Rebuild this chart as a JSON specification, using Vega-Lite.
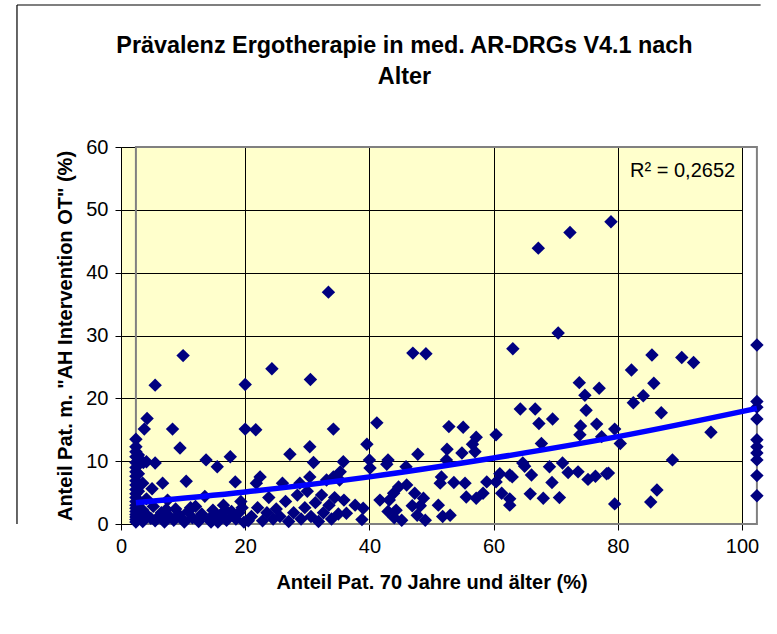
{
  "$schema": "https://vega.github.io/schema/vega-lite/v6.json",
  "autosize": "none",
  "width": 621,
  "height": 377,
  "padding": {"left": 121, "top": 147, "right": 35, "bottom": 110},
  "background": "white",
  "config": {
    "view": {"fill": "#FFFFCC", "stroke": null},
    "font": "Liberation Sans"
  },
  "title": {
    "text": ["Prävalenz Ergotherapie in med. AR-DRGs V4.1 nach", "Alter"],
    "fontSize": 23.4,
    "font": "Liberation Sans",
    "fontWeight": "bold",
    "color": "#000000",
    "anchor": "middle",
    "dx": -27,
    "offset": -85,
    "lineHeight": 31
  },
  "datasets": {
    "pts": [
      {"x":2.4,"y":0.3},{"x":2.4,"y":0.7},{"x":2.4,"y":1.1},{"x":2.4,"y":1.5},{"x":2.4,"y":2.0},{"x":2.4,"y":2.5},{"x":2.4,"y":3.0},{"x":2.4,"y":3.6},{"x":2.4,"y":4.2},{"x":2.4,"y":4.8},{"x":2.4,"y":5.5},{"x":2.4,"y":6.2},{"x":2.4,"y":6.9},{"x":2.4,"y":7.6},{"x":2.4,"y":8.3},{"x":2.4,"y":9.0},{"x":2.4,"y":9.8},{"x":2.4,"y":10.7},{"x":2.4,"y":11.5},{"x":2.4,"y":12.3},{"x":2.4,"y":13.5},
      {"x":2.8,"y":1.0},{"x":2.8,"y":3.3},{"x":2.8,"y":5.2},{"x":2.8,"y":8.0},{"x":2.8,"y":11.0},
      {"x":3.5,"y":0.4},{"x":3.5,"y":2.2},{"x":3.5,"y":6.5},{"x":3.6,"y":9.8},{"x":3.75,"y":15.1},
      {"x":4.2,"y":1.4},{"x":4.1,"y":4.0},{"x":4.2,"y":16.8},{"x":4.1,"y":9.9},
      {"x":5.5,"y":0.5},{"x":5.2,"y":2.8},{"x":5.5,"y":9.7},{"x":5.5,"y":22.1},{"x":5.0,"y":5.6},
      {"x":6.7,"y":6.5},{"x":6.5,"y":1.8},{"x":7.0,"y":0.3},{"x":7.5,"y":3.8},{"x":7.8,"y":1.2},
      {"x":8.3,"y":15.1},{"x":8.5,"y":0.6},{"x":8.8,"y":2.4},{"x":9.5,"y":12.1},{"x":9.3,"y":1.5},
      {"x":10.0,"y":26.8},{"x":10.5,"y":6.8},{"x":10.2,"y":0.3},{"x":10.8,"y":2.0},{"x":11.5,"y":1.0},
      {"x":12.0,"y":2.8},{"x":12.5,"y":0.4},{"x":13.0,"y":1.6},{"x":13.7,"y":10.2},{"x":13.5,"y":4.4},
      {"x":14.2,"y":0.8},{"x":14.8,"y":2.2},{"x":15.5,"y":9.1},{"x":15.6,"y":0.3},{"x":16.0,"y":1.4},
      {"x":16.5,"y":3.0},{"x":17.0,"y":0.6},{"x":17.6,"y":10.7},{"x":17.8,"y":2.0},{"x":18.4,"y":6.7},
      {"x":18.5,"y":0.8},{"x":19.0,"y":1.8},{"x":19.3,"y":3.6},{"x":19.8,"y":0.3},
      {"x":4.8,"y":0.9},{"x":6.0,"y":1.1},{"x":7.3,"y":2.3},{"x":9.8,"y":0.9},{"x":11.2,"y":2.6},
      {"x":12.8,"y":1.0},{"x":14.5,"y":0.3},{"x":15.2,"y":1.2},{"x":16.8,"y":2.2},{"x":18.0,"y":1.4},
      {"x":19.5,"y":2.6},{"x":20.5,"y":0.5},
      {"x":20.0,"y":22.2},{"x":20.0,"y":15.1},{"x":21.7,"y":15.0},{"x":21.8,"y":6.5},{"x":22.4,"y":7.5},
      {"x":21.0,"y":1.2},{"x":22.0,"y":2.6},{"x":22.8,"y":0.5},{"x":23.5,"y":1.8},{"x":23.8,"y":4.2},
      {"x":24.3,"y":24.7},{"x":24.5,"y":0.8},{"x":25.0,"y":2.4},{"x":25.6,"y":1.2},{"x":26.0,"y":6.5},
      {"x":26.5,"y":3.6},{"x":27.0,"y":0.4},{"x":27.2,"y":11.1},{"x":27.8,"y":1.8},{"x":28.4,"y":4.6},
      {"x":28.8,"y":6.5},{"x":29.0,"y":0.8},{"x":29.6,"y":2.6},{"x":30.0,"y":5.2},{"x":30.4,"y":12.3},
      {"x":30.5,"y":23.0},{"x":30.4,"y":7.5},{"x":30.6,"y":1.2},{"x":31.0,"y":9.8},{"x":31.3,"y":3.4},
      {"x":31.8,"y":0.4},{"x":32.3,"y":4.6},{"x":32.6,"y":1.8},{"x":33.1,"y":7.0},{"x":33.4,"y":36.9},
      {"x":33.5,"y":3.0},{"x":33.9,"y":0.8},{"x":34.2,"y":15.1},{"x":34.2,"y":7.5},{"x":34.4,"y":4.2},
      {"x":35.3,"y":8.3},{"x":35.8,"y":9.9},{"x":35.0,"y":1.6},{"x":35.9,"y":3.8},{"x":36.3,"y":1.7},
      {"x":35.2,"y":7.0},{"x":37.7,"y":3.0},{"x":39.0,"y":2.5},{"x":38.8,"y":0.7},{"x":39.6,"y":12.7},
      {"x":40.0,"y":10.2},{"x":40.1,"y":8.9},{"x":41.2,"y":16.1},{"x":41.7,"y":3.8},{"x":43.2,"y":3.8},
      {"x":43.0,"y":2.0},{"x":44.3,"y":2.2},{"x":45.2,"y":0.6},{"x":44.0,"y":1.0},{"x":43.0,"y":10.2},
      {"x":42.8,"y":9.5},{"x":43.9,"y":4.9},{"x":44.7,"y":5.9},{"x":45.9,"y":9.1},{"x":46.0,"y":6.2},
      {"x":47.0,"y":27.2},{"x":49.1,"y":27.1},{"x":47.8,"y":11.1},{"x":47.3,"y":4.9},{"x":48.7,"y":4.1},
      {"x":48.2,"y":2.9},{"x":49.0,"y":0.6},{"x":47.7,"y":1.4},{"x":46.9,"y":2.9},{"x":51.1,"y":3.0},
      {"x":51.8,"y":1.2},{"x":53.0,"y":1.4},{"x":51.4,"y":6.5},{"x":51.6,"y":7.5},{"x":52.4,"y":10.2},
      {"x":52.5,"y":11.9},{"x":52.8,"y":15.5},{"x":53.6,"y":6.6},{"x":55.1,"y":15.4},{"x":54.9,"y":11.3},
      {"x":55.4,"y":6.5},{"x":55.6,"y":4.3},{"x":56.6,"y":12.7},{"x":57.2,"y":13.8},{"x":57.0,"y":11.5},
      {"x":57.2,"y":4.1},{"x":58.3,"y":4.9},{"x":58.9,"y":6.7},{"x":60.4,"y":6.7},{"x":60.4,"y":14.2},
      {"x":61.0,"y":8.0},{"x":61.3,"y":4.9},{"x":62.6,"y":7.8},{"x":63.0,"y":7.5},{"x":62.6,"y":4.0},
      {"x":62.6,"y":3.0},{"x":63.1,"y":27.9},{"x":64.3,"y":18.3},{"x":64.7,"y":9.7},{"x":65.0,"y":9.2},
      {"x":65.9,"y":4.8},{"x":66.1,"y":7.8},{"x":66.7,"y":18.3},{"x":67.3,"y":16.0},{"x":67.7,"y":12.8},
      {"x":68.0,"y":4.1},{"x":69.0,"y":9.1},{"x":69.4,"y":6.6},{"x":69.5,"y":16.7},{"x":70.6,"y":4.2},
      {"x":70.4,"y":30.4},{"x":67.2,"y":43.9},{"x":72.3,"y":46.4},{"x":78.9,"y":48.1},
      {"x":71.1,"y":9.7},{"x":72.0,"y":8.2},{"x":73.6,"y":8.3},{"x":73.8,"y":22.5},{"x":74.7,"y":20.5},
      {"x":74.9,"y":18.1},{"x":74.0,"y":15.6},{"x":73.9,"y":14.2},{"x":75.2,"y":7.1},{"x":76.4,"y":7.6},
      {"x":76.6,"y":15.9},{"x":77.0,"y":21.6},{"x":77.4,"y":13.9},{"x":78.2,"y":8.0},{"x":78.5,"y":8.1},
      {"x":79.5,"y":15.1},{"x":80.4,"y":12.8},{"x":79.5,"y":3.2},{"x":82.2,"y":24.5},{"x":82.5,"y":19.3},
      {"x":84.1,"y":20.4},{"x":85.5,"y":26.9},{"x":85.8,"y":22.4},{"x":87.0,"y":17.7},{"x":85.3,"y":3.5},
      {"x":86.3,"y":5.4},{"x":88.8,"y":10.2},{"x":90.3,"y":26.5},{"x":92.2,"y":25.7},{"x":95.0,"y":14.6},
      {"x":102.4,"y":28.5},{"x":102.4,"y":19.5},{"x":102.4,"y":18.6},{"x":102.4,"y":16.7},{"x":102.4,"y":13.4},
      {"x":102.4,"y":12.3},{"x":102.4,"y":11.3},{"x":102.4,"y":10.2},{"x":102.4,"y":7.7},{"x":102.4,"y":4.5}
    ],
    "trend": [
      {"x":2.4,"y":3.4},{"x":20,"y":5.1},{"x":40,"y":7.5},{"x":60,"y":10.5},{"x":80,"y":13.9},{"x":102.4,"y":18.4}
    ]
  },
  "layer": [
    {
      "data": {"values": [{}]},
      "mark": {"type": "rule", "color": "#000000", "strokeWidth": 1.2},
      "encoding": {
        "x": {"datum": -16.75, "type": "quantitative"},
        "y": {"datum": 0, "type": "quantitative"},
        "y2": {"datum": 82.6}
      }
    },
    {
      "data": {"values": [{}]},
      "mark": {"type": "rule", "color": "#000000", "strokeWidth": 1.2},
      "encoding": {
        "x": {"datum": -16.75, "type": "quantitative"},
        "x2": {"datum": 103},
        "y": {"datum": 82.6, "type": "quantitative"}
      }
    },
    {
      "data": {"values": [{}]},
      "mark": {"type": "rect", "fill": null, "stroke": "#808080", "strokeWidth": 2},
      "encoding": {
        "x": {"datum": 2.4, "type": "quantitative",
          "scale": {"domain": [0, 100], "nice": false, "zero": false},
          "axis": {
            "title": "Anteil Pat. 70 Jahre und älter (%)",
            "values": [0, 20, 40, 60, 80, 100],
            "grid": true, "gridColor": "#000000", "gridOpacity": 1, "gridWidth": 1,
            "domainColor": "#000000", "domainWidth": 1,
            "tickColor": "#000000", "tickSize": 6, "tickWidth": 1,
            "labelFontSize": 20, "labelColor": "#000000", "labelFont": "Liberation Sans",
            "labelPadding": 6, "labelFlush": false, "labelOverlap": false,
            "titleFontSize": 20, "titleFontWeight": "bold", "titleColor": "#000000", "titleFont": "Liberation Sans",
            "titlePadding": 16
          }
        },
        "x2": {"datum": 102.4},
        "y": {"datum": 0, "type": "quantitative",
          "scale": {"domain": [0, 60], "nice": false},
          "axis": {
            "title": "Anteil Pat. m. \"AH Intervention OT\" (%)",
            "values": [0, 10, 20, 30, 40, 50, 60],
            "grid": true, "gridColor": "#000000", "gridOpacity": 1, "gridWidth": 1,
            "domainColor": "#000000", "domainWidth": 1,
            "tickColor": "#000000", "tickSize": 6, "tickWidth": 1,
            "labelFontSize": 20, "labelColor": "#000000", "labelFont": "Liberation Sans",
            "labelPadding": 7, "labelFlush": false, "labelOverlap": false,
            "titleFontSize": 20, "titleFontWeight": "bold", "titleColor": "#000000", "titleFont": "Liberation Sans",
            "titlePadding": 10
          }
        },
        "y2": {"datum": 60}
      }
    },
    {
      "data": {"name": "pts"},
      "mark": {"type": "point", "shape": "diamond", "filled": true, "size": 180, "color": "#000080", "opacity": 1},
      "encoding": {
        "x": {"field": "x", "type": "quantitative"},
        "y": {"field": "y", "type": "quantitative"}
      }
    },
    {
      "data": {"name": "trend"},
      "mark": {"type": "line", "color": "#0000FF", "strokeWidth": 5.5, "interpolate": "monotone"},
      "encoding": {
        "x": {"field": "x", "type": "quantitative"},
        "y": {"field": "y", "type": "quantitative"}
      }
    },
    {
      "data": {"values": [{}]},
      "mark": {"type": "text", "text": "R² = 0,2652", "fontSize": 20, "font": "Liberation Sans", "color": "#000000", "align": "right", "baseline": "alphabetic"},
      "encoding": {
        "x": {"datum": 98.9, "type": "quantitative"},
        "y": {"datum": 55.3, "type": "quantitative"}
      }
    }
  ]
}
